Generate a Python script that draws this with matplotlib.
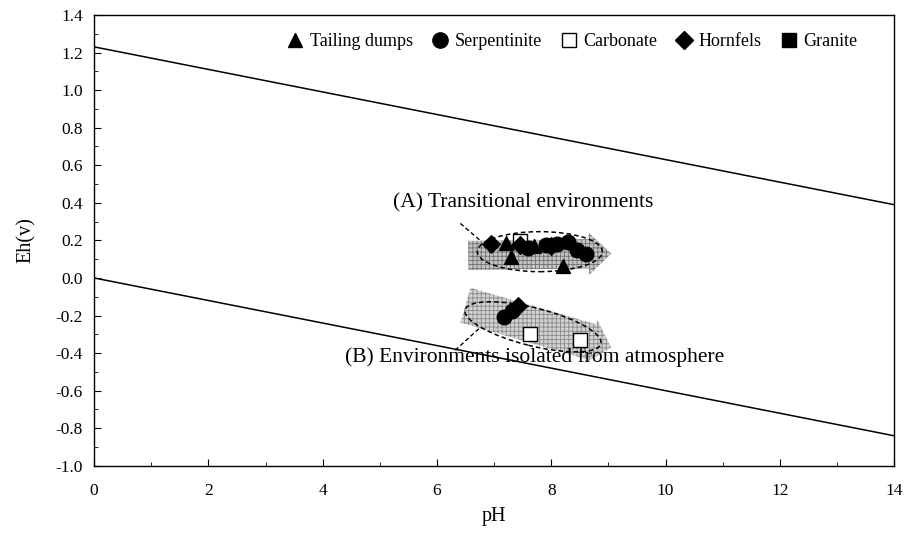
import matplotlib
matplotlib.use("Agg")
import matplotlib.pyplot as plt
import matplotlib.transforms as mtransforms
from matplotlib.patches import Ellipse
from matplotlib.lines import Line2D
from matplotlib.ticker import MultipleLocator

plt.rcParams["font.family"] = ["Liberation Serif", "DejaVu Serif"]
plt.rcParams["hatch.linewidth"] = 0.6

# water stability limits
line_ph = [0, 14]
upper_eh = [1.23, 0.39]
lower_eh = [0.0, -0.84]

# samples (A: transitional, B: isolated from atmosphere)
tailing_ph = [7.2, 7.3, 7.7, 8.2]
tailing_eh = [0.185, 0.11, 0.17, 0.065]
serp_ph = [7.6, 7.9, 8.1, 8.3, 8.45, 8.6, 7.18, 7.32]
serp_eh = [0.16, 0.175, 0.18, 0.19, 0.15, 0.125, -0.21, -0.175]
carb_ph = [7.45, 7.63, 8.5]
carb_eh = [0.195, -0.30, -0.33]
horn_ph = [6.95, 7.45, 8.0, 7.42]
horn_eh = [0.18, 0.175, 0.17, -0.15]
granite_ph = []
granite_eh = []

fig = plt.figure(figsize=(9.05, 5.33), dpi=100)
ax = fig.add_axes([0.104, 0.126, 0.884, 0.846])

ax.plot(line_ph, upper_eh, color="black", lw=1.1, zorder=2)
ax.plot(line_ph, lower_eh, color="black", lw=1.1, zorder=2)

# gray trend arrows
arrow_a = dict(arrowstyle="simple,head_length=1.6,head_width=3.0,tail_width=2.1",
               mutation_scale=10, fc="#c4c4c4", ec="#6f6f6f", lw=0,
               hatch="++++", shrinkA=0, shrinkB=0)
arrow_b = dict(arrowstyle="simple,head_length=1.5,head_width=3.2,tail_width=2.6",
               mutation_scale=10, fc="#d2d2d2", ec="#8a8a8a", lw=0,
               hatch="++++", shrinkA=0, shrinkB=0)
ax.annotate("", xy=(9.05, 0.13), xytext=(6.55, 0.12), arrowprops=arrow_a, zorder=3)
ax.annotate("", xy=(9.05, -0.37), xytext=(6.5, -0.145), arrowprops=arrow_b, zorder=3)

# dashed ellipses (sizes in inches so the tilt is not distorted)
def dashed_ellipse(cx, cy, w, h, angle):
    trans = fig.dpi_scale_trans + mtransforms.ScaledTranslation(cx, cy, ax.transData)
    e = Ellipse((0, 0), w, h, angle=angle, transform=trans, fill=False,
                ec="black", lw=1.1, ls=(0, (3, 2)), zorder=6)
    ax.add_patch(e)

dashed_ellipse(7.8, 0.14, 1.25, 0.40, 0)
dashed_ellipse(7.68, -0.26, 1.40, 0.38, -14)

# markers
ms = 100
ax.scatter(horn_ph, horn_eh, marker="D", s=ms * 0.8, c="black", zorder=5)
ax.scatter(carb_ph, carb_eh, marker="s", s=ms, facecolors="white", edgecolors="black",
           linewidths=1.0, zorder=4.5)
ax.scatter(serp_ph, serp_eh, marker="o", s=ms * 1.1, c="black", zorder=5)
ax.scatter(tailing_ph, tailing_eh, marker="^", s=ms, c="black", zorder=5)
ax.scatter(granite_ph, granite_eh, marker="s", s=ms, c="black", zorder=5)

# labels with dashed leaders
ax.text(7.5, 0.40, "(A) Transitional environments", fontsize=15.5, ha="center", va="center")
ax.plot([6.41, 6.83], [0.29, 0.18], color="black", lw=1.0, ls=(0, (3, 2)))
ax.text(7.7, -0.42, "(B) Environments isolated from atmosphere", fontsize=15.5,
        ha="center", va="center", zorder=7)
ax.plot([6.32, 6.84], [-0.385, -0.24], color="black", lw=1.0, ls=(0, (3, 2)))

handles = [
    Line2D([], [], ls="", marker="^", color="black", ms=10),
    Line2D([], [], ls="", marker="o", color="black", ms=11),
    Line2D([], [], ls="", marker="s", mfc="white", mec="black", ms=10),
    Line2D([], [], ls="", marker="D", color="black", ms=9),
    Line2D([], [], ls="", marker="s", color="black", ms=10),
]
labels = ["Tailing dumps", "Serpentinite", "Carbonate", "Hornfels", "Granite"]
ax.legend(handles, labels, ncol=5, loc="center", bbox_to_anchor=(0.596, 0.94),
          frameon=False, fontsize=13, handletextpad=0.2, columnspacing=0.9,
          handlelength=1.2, borderpad=0)

ax.set_xlim(0, 14)
ax.set_ylim(-1.0, 1.4)
ax.xaxis.set_major_locator(MultipleLocator(2))
ax.xaxis.set_minor_locator(MultipleLocator(1))
ax.yaxis.set_major_locator(MultipleLocator(0.2))
ax.yaxis.set_minor_locator(MultipleLocator(0.1))
ax.yaxis.set_major_formatter(matplotlib.ticker.FormatStrFormatter("%.1f"))
ax.tick_params(which="both", direction="in", top=False, right=False, labelsize=12.5)
ax.tick_params(axis="x", pad=12)
ax.tick_params(axis="y", pad=8)
ax.tick_params(which="major", length=5)
ax.tick_params(which="minor", length=3)
for sp in ax.spines.values():
    sp.set_linewidth(1.0)

ax.set_xlabel("pH", fontsize=14.5, labelpad=6)
ax.set_ylabel("Eh(v)", fontsize=14.5, labelpad=14)

fig.savefig("out.png", dpi=100)
